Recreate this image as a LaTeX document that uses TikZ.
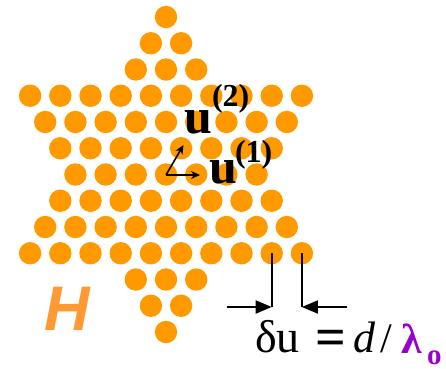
\documentclass[tikz,border=0pt]{standalone}
\usepackage{fontspec}
\setmainfont{Liberation Serif}
\newfontfamily\hfont{Liberation Sans}
\usetikzlibrary{arrows.meta}
\definecolor{dotorange}{HTML}{FF9900}
\definecolor{horange}{HTML}{FF9933}
\definecolor{lampurple}{HTML}{9900CC}
\tikzset{
  dot/.style={circle,fill=dotorange,draw=none,minimum size=22.4pt,inner sep=0pt},
  vec/.style={line width=1.6pt,-{Stealth[length=9pt,width=8pt]}},
  gap/.style={line width=1.8pt,-{Triangle[length=16pt,width=13pt]}},
  tick/.style={line width=1.8pt},
  lbl/.style={anchor=base west,inner sep=0pt,outer sep=0pt}
}
\begin{document}
\begin{tikzpicture}[x=1pt,y=-1pt]
\useasboundingbox (0,0) rectangle (446,368);
\foreach \r/\n in {-6/1,-5/2,-4/3,-3/10,-2/9,-1/8,0/7,1/8,2/9,3/10,4/3,5/2,6/1}{
  \foreach \k in {1,...,\n}{
    \node[dot] (c\r-\k) at ({166+(\k-(\n+1)/2)*30.2},{174.5+\r*26.25}) {};
  }
}
% basis vectors
\coordinate (o) at (166,175);
\coordinate (e1) at (200,175);
\coordinate (e2) at (183.5,145);
\draw[vec] (o) -- (e1);
\draw[vec] (o) -- (e2);
\node[lbl] (u2) at (184,133) {\fontsize{50}{50}\selectfont\bfseries u};
\node[lbl] (s2) at (212,106) {\fontsize{32}{32}\selectfont\bfseries (2)};
\node[lbl] (u1) at (209,183) {\fontsize{50}{50}\selectfont\bfseries u};
\node[lbl] (s1) at (235,162) {\fontsize{32}{32}\selectfont\bfseries (1)};
% spacing marks
\coordinate (a1) at (c3-9.center |- 0,307);
\coordinate (a2) at (c3-10.center |- 0,307);
\coordinate (l1) at (227,307);
\coordinate (l2) at (347,307);
\draw[tick] (c3-9.center) -- (a1);
\draw[tick] (c3-10.center) -- (a2);
\draw[gap] (l1) -- (a1);
\draw[gap] (l2) -- (a2);
\node[lbl] (du) at (255,352) {\fontsize{46}{46}\selectfont δu};
\node[inner sep=0pt] (eq) at (331,343) {\fontsize{54}{54}\selectfont\bfseries =};
\node[lbl] (dd) at (353,352) {\fontsize{44}{44}\selectfont\itshape d};
\node[lbl] (sl) at (380,352) {\fontsize{42}{42}\selectfont /};
\node[lbl,text=lampurple] (lam) at (401,353) {\fontsize{42}{42}\selectfont\bfseries λ};
\node[lbl,text=lampurple] (sub) at (427,364) {\fontsize{29}{29}\selectfont\bfseries o};
\node[lbl,text=horange] (H) at (44,330) {\fontsize{63}{63}\selectfont\hfont\bfseries\itshape H};
\end{tikzpicture}
\end{document}
